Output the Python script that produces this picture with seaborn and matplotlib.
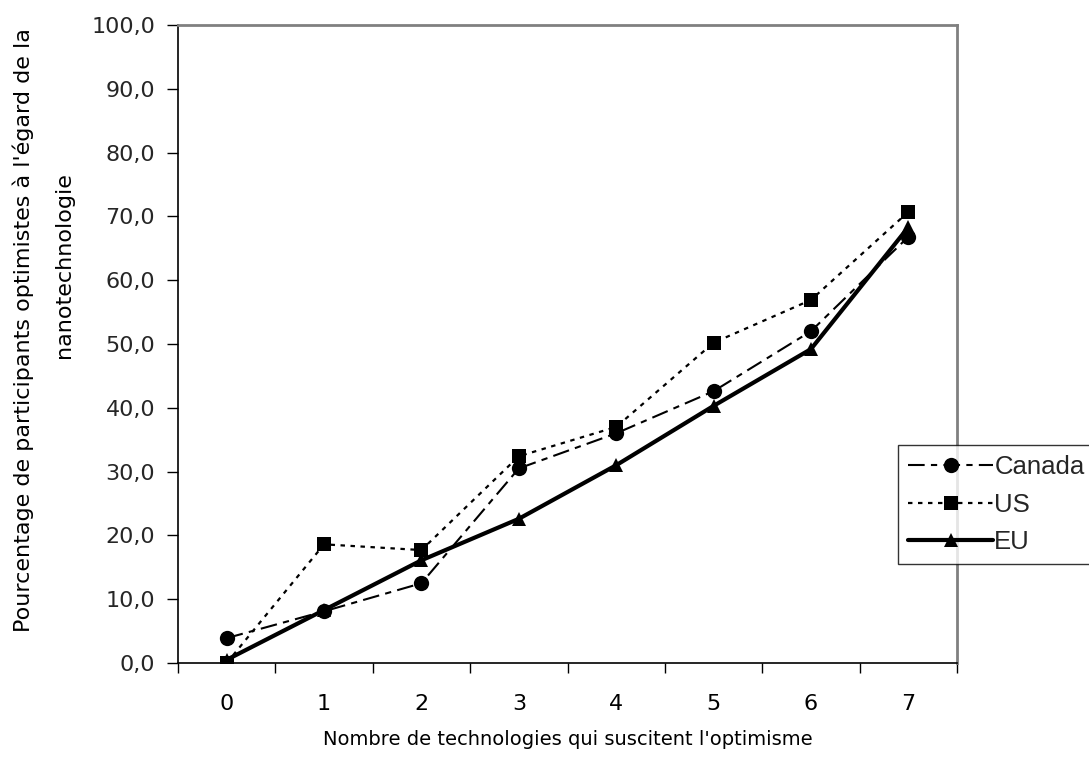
import matplotlib
matplotlib.use("Agg")
import matplotlib.pyplot as plt
from matplotlib.ticker import FixedLocator, FuncFormatter, NullFormatter
import seaborn as sns
import pandas as pd

# Number of technologies considered promising (x categories)
categories = [0, 1, 2, 3, 4, 5, 6, 7]

# Share of respondents optimistic about nanotechnology (%)
canada = [3.9, 8.1, 12.5, 30.5, 36.0, 42.6, 52.0, 66.8]
us = [0.0, 18.6, 17.7, 32.4, 37.0, 50.2, 56.9, 70.7]
eu = [0.5, 8.3, 16.1, 22.6, 31.0, 40.3, 49.2, 68.3]

y_ticks = [0, 10, 20, 30, 40, 50, 60, 70, 80, 90, 100]

sns.set_theme(style="white")
plt.rcParams["font.family"] = ["DejaVu Sans"]

W, H = 1089, 772
fig = plt.figure(figsize=(W / 100, H / 100), dpi=100)
ax = fig.add_axes([178 / W, 109 / H, (957 - 178) / W, (663 - 25) / H])

df = pd.DataFrame({"x": categories, "Canada": canada, "US": us, "EU": eu})

sns.lineplot(data=df, x="x", y="Canada", ax=ax, color="black",
             linewidth=1.5, linestyle=(0, (8, 3, 3, 3)),
             marker="o", markersize=11, markeredgewidth=0,
             label="Canada")
sns.lineplot(data=df, x="x", y="US", ax=ax, color="black",
             linewidth=1.6, linestyle=(0, (2, 2.5)),
             marker="s", markersize=10, markeredgewidth=0,
             label="US")
sns.lineplot(data=df, x="x", y="EU", ax=ax, color="black",
             linewidth=3.0, linestyle="-",
             marker="^", markersize=10, markeredgewidth=0,
             label="EU")

ax.set_xlim(-0.5, 7.5)
ax.set_ylim(0, 100)

# Category labels at the centres, tick marks between categories
ax.set_xticks(categories)
ax.set_xticklabels([str(c) for c in categories])
ax.xaxis.set_minor_locator(FixedLocator([c - 0.5 for c in categories] + [7.5]))
ax.xaxis.set_minor_formatter(NullFormatter())
ax.tick_params(axis="x", which="major", length=0, pad=22, labelsize=16,
               colors="black")
ax.tick_params(axis="x", which="minor", length=7, width=1, direction="out",
               color="black", bottom=True)

ax.set_yticks(y_ticks)
ax.yaxis.set_major_formatter(FuncFormatter(lambda v, _: f"{v:.1f}".replace(".", ",")))
ax.tick_params(axis="y", which="major", length=8, width=1, direction="out",
               color="black", left=True, labelsize=16, pad=8.5)

for side in ("left", "bottom"):
    ax.spines[side].set_color("black")
    ax.spines[side].set_linewidth(1.2)
for side in ("top", "right"):
    ax.spines[side].set_visible(True)
    ax.spines[side].set_color("#808080")
    ax.spines[side].set_linewidth(2.0)

ax.set_xlabel("Nombre de technologies qui suscitent l'optimisme",
              fontsize=14, labelpad=12, color="black")
ax.set_ylabel("")

# Two-line y-axis title
fig.text(23 / W, 1 - 330 / H,
         "Pourcentage de participants optimistes à l'égard de la",
         rotation=90, ha="center", va="center", fontsize=16, color="black")
fig.text(64 / W, 1 - 265 / H, "nanotechnologie",
         rotation=90, ha="center", va="center", fontsize=16, color="black")

ax.get_legend().remove()
leg = fig.legend(loc="upper left", bbox_to_anchor=(898 / W, 1 - 445 / H),
                 frameon=True, fancybox=False, edgecolor="black",
                 prop={"family": "Liberation Sans", "size": 18.5},
                 handlelength=3.3, handletextpad=0.05, labelspacing=0.52,
                 borderpad=0.4, borderaxespad=0)
leg.get_frame().set_linewidth(1.0)

fig.savefig("out.png", dpi=100, facecolor="white")
